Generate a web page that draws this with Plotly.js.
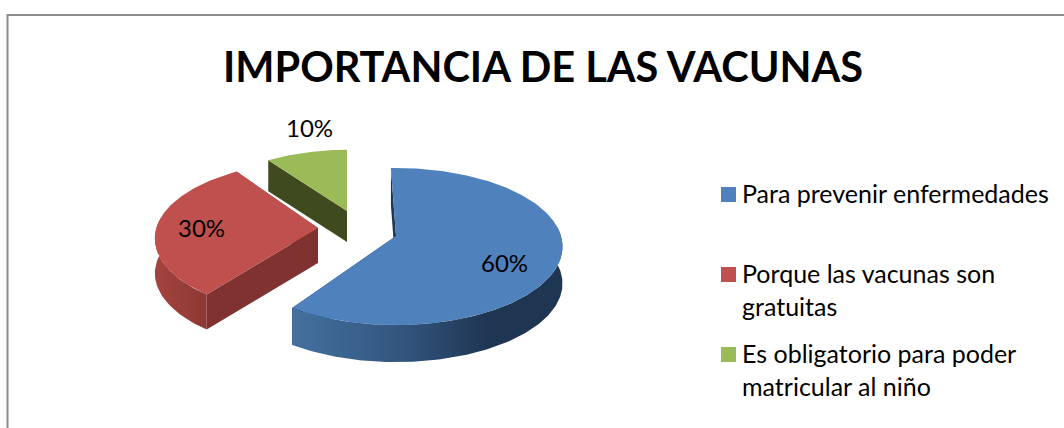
<!DOCTYPE html>
<html>
<head>
<meta charset="utf-8">
<script src="https://cdn.plot.ly/plotly-3.0.1.min.js"></script>
<style>html,body{margin:0;padding:0;background:#fff}#chart{width:1064px;height:428px}</style>
</head>
<body>
<div id="chart"></div>
<script>
// ---- data ----
const chartTitle = 'IMPORTANCIA DE LAS VACUNAS';
const categories = ['Para prevenir enfermedades', 'Porque las vacunas son<br>gratuitas', 'Es obligatorio para poder<br>matricular al niño'];
const values = [60, 30, 10];

// ---- styles ----
const topColors = ['#4f81bd', '#c0504d', '#9bbb59'];
const edgeColors = ['#1f3653', '#7f3230', '#3f4a1f'];
const rimScales = [
  [[0, '#44709f'], [0.4, '#33567f'], [0.72, '#1f3653'], [1, '#1f3653']],
  [[0, '#a5433f'], [1, '#8c3835']],
  [[0, '#3f4a1f'], [1, '#3f4a1f']]
];

// ---- 3D projection of the exploded pie, in pixels of the hidden axes ----
const apexX = [396, 318, 347];
const apexY = [236, 228, 211];
const depth = [37, 35, 31];
const sliceScale = [1, 0.98, 0.9];
const sliceTurn = [-2, 2, 0];
const RX = 165, RY = 77.1, PERSP = 0.134;
const FONT = 'Lato, Carlito, sans-serif';

function project(i, deg, r, dz) {
  const t = deg * Math.PI / 180, u = r * Math.sin(t), v = r * Math.cos(t), w = 1 + PERSP * v;
  return [apexX[i] + sliceScale[i] * RX * u / w, apexY[i] - sliceScale[i] * RY * v / w + dz];
}
function arc(i, a, b, dz) {
  const pts = [], n = Math.max(2, Math.ceil(Math.abs(b - a)));
  for (let k = 0; k <= n; k++) pts.push(project(i, a + (b - a) * k / n, 1, dz));
  return pts;
}
function poly(pts, extra) {
  return Object.assign({
    type: 'scatter', mode: 'lines', x: pts.map(p => p[0]), y: pts.map(p => p[1]),
    fill: 'toself', line: {width: 0}, hoverinfo: 'skip', showlegend: false
  }, extra);
}

const total = values.reduce((a, b) => a + b, 0);
const walls = [], tops = [];
let acc = 0;
values.forEach((val, i) => {
  const a = acc / total * 360 + sliceTurn[i], b = (acc + val) / total * 360 + sliceTurn[i];
  acc += val;
  const d = depth[i];
  [a, b].forEach(e => {
    const apex = project(i, 0, 0, 0), apexB = project(i, 0, 0, d), rim = project(i, e, 1, 0), rimB = project(i, e, 1, d);
    walls.push(poly([apex, rim, rimB, apexB, apex], {fillcolor: edgeColors[i]}));
  });
  const ra = Math.max(a, 82), rb = Math.min(b, 278);
  if (rb > ra) {
    const pts = arc(i, ra, rb, 0).concat(arc(i, rb, ra, d));
    walls.push(poly(pts, {fillgradient: {type: 'horizontal', colorscale: rimScales[i]}}));
  }
  const apex = project(i, 0, 0, 0);
  tops.push(poly([apex].concat(arc(i, a, b, 0)).concat([apex]), {fillcolor: topColors[i], text: [categories[i]]}));
});

// ---- legend swatches ----
const swatchX = 728.5, swatchY = [194.5, 274.5, 354.5];
const legendMarks = {
  type: 'scatter', mode: 'markers', x: swatchY.map(() => swatchX), y: swatchY,
  marker: {symbol: 'square', size: 15, color: topColors, line: {width: 0}},
  hoverinfo: 'skip', showlegend: false
};

const labelX = [504, 201, 309], labelY = [262, 227, 127];
const labels = values.map((v, i) => ({
  x: labelX[i], y: labelY[i], xref: 'x', yref: 'y', text: v + '%', showarrow: false,
  xanchor: 'center', yanchor: 'middle', font: {family: FONT, size: 24, color: '#000'}
}));
const legendTexts = categories.map((c, i) => ({
  x: 740, y: swatchY[i] - 19, xref: 'x', yref: 'y', text: c, showarrow: false, align: 'left',
  xanchor: 'left', yanchor: 'top', font: {family: FONT, size: 25, color: '#000'}
}));

Plotly.newPlot('chart', walls.concat(tops, [legendMarks]), {
  width: 1064, height: 428,
  margin: {l: 0, r: 0, t: 0, b: 0},
  paper_bgcolor: '#fff', plot_bgcolor: '#fff',
  title: {text: chartTitle, x: 543 / 1064, xanchor: 'center', y: 1 - 67 / 428, yanchor: 'middle',
          font: {family: FONT, size: 41.5, weight: 700, color: '#000'}},
  xaxis: {range: [0, 1064], visible: false, fixedrange: true},
  yaxis: {range: [428, 0], visible: false, fixedrange: true},
  showlegend: false,
  annotations: labels.concat(legendTexts),
  shapes: [{type: 'path', xref: 'x', yref: 'y', path: 'M7.5,428 L7.5,15 L1064,15', line: {color: '#8c8c8c', width: 2}}]
}, {displayModeBar: false, staticPlot: true});
</script>
</body>
</html>
